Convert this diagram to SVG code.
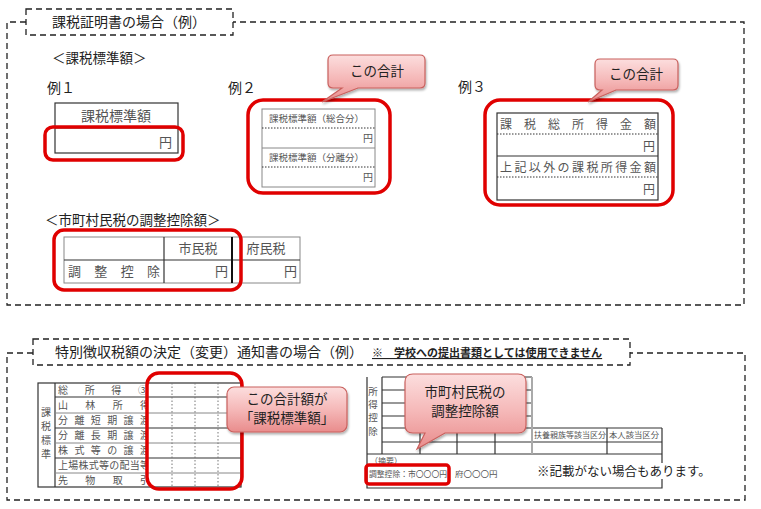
<svg xmlns="http://www.w3.org/2000/svg" width="761" height="509" viewBox="0 0 761 509">
<style>
text{font-family:"Noto Sans CJK JP","Noto Sans CJK SC",sans-serif;fill:#222}
.dash{fill:none;stroke:#222;stroke-width:1.3;stroke-dasharray:6 4}
.red{fill:none;stroke:#e00000;stroke-width:3.5}
.tb{fill:none;stroke:#333;stroke-width:1.2}
.tg{fill:none;stroke:#888;stroke-width:1}
.dot{stroke:#333;stroke-width:1;stroke-dasharray:1.5 1.5}
.dotg{stroke:#777;stroke-width:1;stroke-dasharray:1.5 2}
.call{fill:url(#pink);stroke:#c9605d;stroke-width:1.2;filter:url(#sh)}
.gt{fill:#555}
.ct{font-size:13.5px;fill:#222;text-anchor:middle}
</style>
<defs>
<linearGradient id="pink" x1="0" y1="0" x2="0" y2="1">
<stop offset="0" stop-color="#fcdede"/>
<stop offset="0.5" stop-color="#f5b8b8"/>
<stop offset="1" stop-color="#e98c8c"/>
</linearGradient>
<filter id="sh" x="-20%" y="-20%" width="140%" height="150%">
<feDropShadow dx="1" dy="2" stdDeviation="1.2" flood-color="#000" flood-opacity="0.3"/>
</filter>
<clipPath id="lbl"><rect x="55" y="380" width="92" height="110"/></clipPath>
</defs>
<rect width="761" height="509" fill="#fff"/>

<!-- Top section -->
<g id="top-frame">
<path class="dash" d="M26,22 H7 V305 H744 V22 H233"/>
<rect class="dash" x="26" y="9" width="207" height="26" fill="#fff"/>
<text x="52" y="27" font-size="14">課税証明書の場合（例）</text>
</g>
<text x="52" y="63" font-size="13.5">＜課税標準額＞</text>
<text x="47" y="93" font-size="14">例１</text>
<text x="228" y="93" font-size="14">例２</text>
<text x="458" y="92" font-size="14">例３</text>

<g id="ex1">
<rect class="tb" x="55" y="103" width="123" height="50"/>
<line class="tb" x1="55" y1="128" x2="178" y2="128"/>
<text x="116" y="121" font-size="14" text-anchor="middle" class="gt">課税標準額</text>
<text x="172" y="147" font-size="13" text-anchor="end" class="gt">円</text>
<rect class="red" x="45" y="127" width="138" height="33" rx="8"/>
</g>

<g id="ex2">
<rect class="tg" x="262" y="109" width="113" height="78"/>
<line class="dot" x1="262" y1="128" x2="375" y2="128"/>
<line class="tg" x1="262" y1="148" x2="375" y2="148"/>
<line class="dot" x1="262" y1="167" x2="375" y2="167"/>
<text x="269" y="122" font-size="9.5" class="gt">課税標準額（総合分）</text>
<text x="373" y="142" font-size="10" text-anchor="end" class="gt">円</text>
<text x="269" y="161" font-size="9.5" class="gt">課税標準額（分離分）</text>
<text x="373" y="181" font-size="10" text-anchor="end" class="gt">円</text>
<rect class="red" x="248" y="100" width="142" height="93" rx="15"/>
</g>
<g id="callout2">
<path class="call" d="M333,55 H420 Q425,55 425,60 V83 Q425,88 420,88 H358 L322,102 L342,88 H333 Q328,88 328,83 V60 Q328,55 333,55 Z"/>
<text x="377" y="76" font-size="13" class="ct">この合計</text>
</g>

<g id="ex3">
<rect class="tb" x="497" y="113" width="161" height="87"/>
<line class="dot" x1="497" y1="134" x2="658" y2="134"/>
<line class="tb" x1="497" y1="156" x2="658" y2="156"/>
<line class="dot" x1="497" y1="177" x2="658" y2="177"/>
<text x="500" y="129" font-size="12" class="gt" textLength="156" lengthAdjust="spacing">課税総所得金額</text>
<text x="655" y="151" font-size="12" text-anchor="end" class="gt">円</text>
<text x="500" y="172" font-size="12" class="gt" textLength="156" lengthAdjust="spacing">上記以外の課税所得金額</text>
<text x="655" y="194" font-size="12" text-anchor="end" class="gt">円</text>
<rect class="red" x="485" y="100" width="188" height="105" rx="15"/>
</g>
<g id="callout3">
<path class="call" d="M600,59 H673 Q678,59 678,64 V85 Q678,90 673,90 H616 L588,102 L602,90 H600 Q595,90 595,85 V64 Q595,59 600,59 Z"/>
<text x="636" y="79" font-size="13" class="ct">この合計</text>
</g>

<text x="45" y="225" font-size="13.5">＜市町村民税の調整控除額＞</text>
<g id="adj">
<rect class="tg" x="64" y="237" width="236" height="46"/>
<line class="tb" x1="64" y1="260" x2="300" y2="260"/>
<line class="tb" x1="164" y1="237" x2="164" y2="283"/>
<line stroke="#111" stroke-width="2" x1="232" y1="237" x2="232" y2="283"/>
<text x="198" y="253" font-size="13" text-anchor="middle" class="gt">市民税</text>
<text x="266" y="253" font-size="13" text-anchor="middle" class="gt">府民税</text>
<text x="68" y="276" font-size="13" class="gt" textLength="92" lengthAdjust="spacing">調整控除</text>
<text x="228" y="276" font-size="13" text-anchor="end" class="gt">円</text>
<text x="297" y="276" font-size="13" text-anchor="end" class="gt">円</text>
<rect class="red" x="54" y="230" width="187" height="60" rx="10"/>
</g>

<!-- Bottom section -->
<g id="bottom-frame">
<path class="dash" d="M33,353 H7 V500 H745 V353 H630"/>
<rect class="dash" x="33" y="339" width="597" height="26" fill="#fff"/>
<text x="55" y="357" font-size="14">特別徴収税額の決定（変更）通知書の場合（例）</text>
<text x="372" y="357" font-size="11" font-weight="bold" text-decoration="underline">※　学校への提出書類としては使用できません</text>
</g>

<g id="tax-table">
<rect class="tb" x="38" y="383" width="203" height="104"/>
<line class="tb" x1="55" y1="383" x2="55" y2="487"/>
<line class="tb" x1="55" y1="397" x2="241" y2="397"/>
<line class="tg" x1="55" y1="413" x2="241" y2="413"/>
<line class="tb" x1="55" y1="428" x2="241" y2="428"/>
<line class="tg" x1="55" y1="443" x2="241" y2="443"/>
<line class="tb" x1="55" y1="458" x2="241" y2="458"/>
<line class="tg" x1="55" y1="473" x2="241" y2="473"/>
<line class="dotg" x1="172" y1="383" x2="172" y2="487"/>
<line class="dotg" x1="195" y1="383" x2="195" y2="487"/>
<line class="dotg" x1="218" y1="383" x2="218" y2="487"/>
<g font-size="10" text-anchor="middle">
<text x="46" y="416" class="gt">課</text>
<text x="46" y="430" class="gt">税</text>
<text x="46" y="444" class="gt">標</text>
<text x="46" y="458" class="gt">準</text>
</g>
<g clip-path="url(#lbl)" font-size="10">
<text x="58" y="394" class="gt" textLength="90" lengthAdjust="spacing">総所得③</text>
<text x="58" y="409" class="gt" textLength="92" lengthAdjust="spacing">山林所得</text>
<text x="58" y="424" class="gt" textLength="92" lengthAdjust="spacing">分離短期譲渡</text>
<text x="58" y="439" class="gt" textLength="92" lengthAdjust="spacing">分離長期譲渡</text>
<text x="58" y="454" class="gt" textLength="92" lengthAdjust="spacing">株式等の譲渡</text>
<text x="58" y="469" class="gt" textLength="92" lengthAdjust="spacing">上場株式等の配当等</text>
<text x="58" y="484" class="gt" textLength="92" lengthAdjust="spacing">先物取引</text>
</g>
<rect class="red" x="147" y="373" width="95" height="116" rx="12"/>
</g>
<g id="callout-total">
<rect class="call" x="227" y="387" width="120" height="45" rx="7"/>
<text x="287" y="404" class="ct">この合計額が</text>
<text x="287" y="423" class="ct">「課税標準額」</text>
</g>

<g id="notice-table">
<path class="tb" d="M367,377 V488 H662 V454"/>
<line class="tb" x1="382" y1="377" x2="382" y2="454"/>
<line class="tb" x1="382" y1="377" x2="532" y2="377"/>
<line class="tb" x1="382" y1="390" x2="532" y2="390"/>
<line class="tb" x1="382" y1="403" x2="532" y2="403"/>
<line class="tb" x1="382" y1="416" x2="532" y2="416"/>
<line class="tb" x1="382" y1="428" x2="662" y2="428"/>
<line class="tb" x1="382" y1="442" x2="662" y2="442"/>
<line class="tb" x1="367" y1="454" x2="662" y2="454"/>
<line class="tb" x1="420" y1="377" x2="420" y2="454"/>
<line class="tb" x1="457" y1="377" x2="457" y2="454"/>
<line class="tb" x1="495" y1="377" x2="495" y2="454"/>
<line stroke="#aaa" stroke-width="2" x1="532" y1="377" x2="532" y2="454"/>
<line class="tb" x1="607" y1="428" x2="607" y2="454"/>
<line class="tb" x1="662" y1="428" x2="662" y2="454"/>
<g font-size="9.5" text-anchor="middle">
<text x="373" y="395" class="gt">所</text>
<text x="373" y="408" class="gt">得</text>
<text x="373" y="421" class="gt">控</text>
<text x="373" y="435" class="gt">除</text>
</g>
<text x="534" y="438" font-size="8" class="gt" textLength="72" lengthAdjust="spacingAndGlyphs">扶養親族等該当区分</text>
<text x="609" y="438" font-size="8" class="gt" textLength="50" lengthAdjust="spacingAndGlyphs">本人該当区分</text>
<text x="370" y="464" font-size="8" class="gt">（摘要）</text>
<text x="369" y="477" font-size="8.5" class="gt" textLength="78" lengthAdjust="spacingAndGlyphs">調整控除：市〇〇〇円</text>
<text x="455" y="477" font-size="8.5" class="gt">府〇〇〇円</text>
<rect x="536" y="463" width="150" height="16" fill="#fff"/>
<text x="537" y="476" font-size="12.5">※記載がない場合もあります。</text>
<rect class="red" x="366" y="465" width="83" height="19" rx="3" stroke-width="3"/>
</g>
<g id="callout-adj">
<path class="call" d="M413,374 H518 Q526,374 526,382 V425 Q526,433 518,433 H445 L417,449 L425,433 H413 Q405,433 405,425 V382 Q405,374 413,374 Z"/>
<text x="465" y="397" class="ct">市町村民税の</text>
<text x="465" y="416" class="ct">調整控除額</text>
</g>
</svg>
